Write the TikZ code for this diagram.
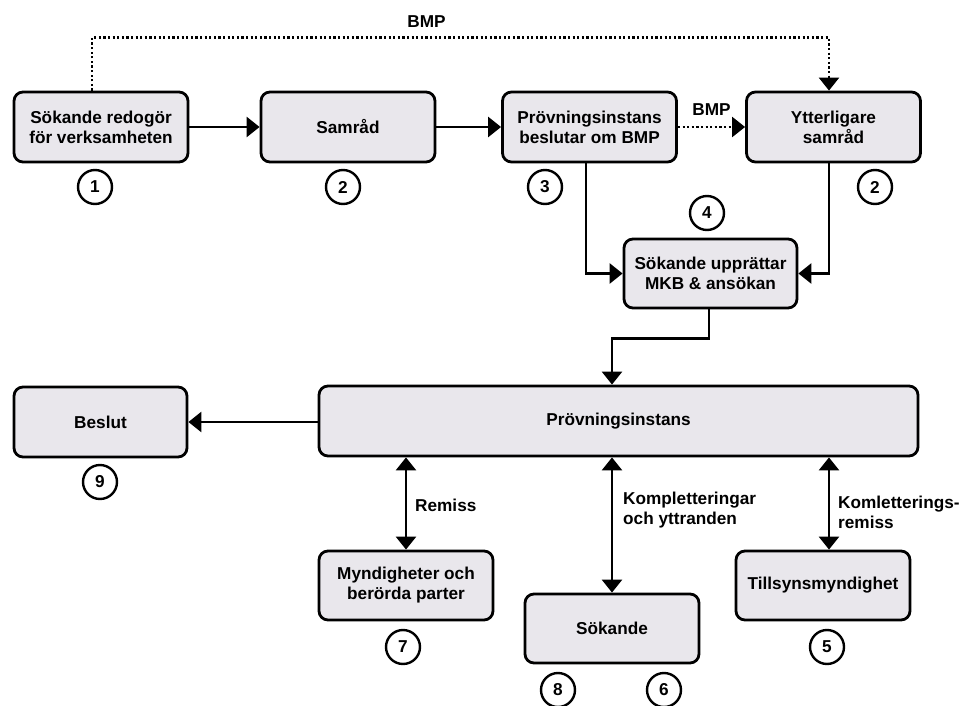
\documentclass[tikz,border=0pt]{standalone}
\usepackage{fontspec}
\setmainfont{Liberation Sans}
\usetikzlibrary{arrows.meta}
\begin{document}
\begin{tikzpicture}[x=1pt,y=-1pt,
  font=\bfseries\fontsize{17.2}{20}\selectfont,
  box/.style={draw, line width=2.8pt, fill=boxfill, rounded corners=9pt,
    minimum width=174pt, minimum height=70pt, align=center, inner sep=2pt},
  num/.style={draw, circle, line width=2.4pt, minimum size=34pt, inner sep=0pt},
  conn/.style={line width=2.6pt, -{Triangle[width=20pt,length=13pt]}},
  both/.style={line width=2.6pt, {Triangle[width=20pt,length=13pt]}-{Triangle[width=20pt,length=13pt]}},
  dots/.style={line width=2.3pt, dash pattern=on 2.2pt off 2.4pt, -{Triangle[width=20pt,length=13pt]}},
  lbl/.style={align=left, inner sep=0pt, anchor=west}]
\definecolor{boxfill}{HTML}{E9E7EC}
\useasboundingbox (0,0) rectangle (962,706);

% top row
\node[box] (b1) at (101,127) {Sökande redogör\\för verksamheten};
\node[box] (sam) at (348,127) {Samråd};
\node[box] (b3) at (589.5,127) {Prövningsinstans\\beslutar om BMP};
\node[box] (yt) at (833.5,127) {Ytterligare\\samråd};
\node[box, minimum width=173pt, minimum height=69pt] (b4) at (710.5,273.5) {Sökande upprättar\\MKB \& ansökan};

% main instance and outcomes
\node[box, minimum width=599pt] (prov) at (618.5,421) {Prövningsinstans};
\node[box, minimum width=173pt] (bes) at (100.5,422) {Beslut};
\node[box, minimum height=69pt] (myn) at (406,585.5) {Myndigheter och\\berörda parter};
\node[box, minimum height=69pt] (sok) at (612,628.5) {Sökande};
\node[box, minimum height=69pt] (till) at (823,585.5) {Tillsynsmyndighet};

% step numbers
\node[num] (n1) at (95,187) {1};
\node[num] (n2) at (343,187) {2};
\node[num] (n3) at (545,187) {3};
\node[num] (n2b) at (875,187) {2};
\node[num] (n4) at (707,213) {4};
\node[num] (n9) at (100,482) {9};
\node[num] (n7) at (403,647) {7};
\node[num] (n8) at (558,690) {8};
\node[num] (n6) at (664,690) {6};
\node[num] (n5) at (827,647) {5};

% connectors
\draw[conn] (b1.east) -- (sam.west);
\draw[conn] (sam.east) -- (b3.west);
\draw[dots] (b3.east) -- node[above=10pt, inner sep=0pt] (bmp1) {BMP} (yt.west);
\draw[dots] ([xshift=-9pt]b1.north) -- ++(0,-53) -| node[pos=0.227, above=9pt, inner sep=0pt] (bmp2) {BMP} ([xshift=-4.5pt]yt.north);
\draw[conn] ([xshift=-3.5pt]b3.south) |- (b4.west);
\draw[conn] ([xshift=-4.5pt]yt.south) |- (b4.east);
\draw[conn] ([xshift=-1.5pt]b4.south) -- ++(0,29) -| (prov.north -| sok.north);
\draw[conn] (prov.west |- bes.east) -- (bes.east);
\draw[both] (prov.south -| myn.north) -- (myn.north);
\draw[both] (prov.south -| sok.north) -- (sok.north);
\draw[both] ([xshift=6pt]prov.south -| till.north) -- ([xshift=6pt]till.north);

% connector labels
\node[lbl] (l1) at (415,505) {Remiss};
\node[lbl] (l2) at (623,510) {Kompletteringar\\och yttranden};
\node[lbl] (l3) at (838,512) {Komletterings-\\remiss};
\end{tikzpicture}
\end{document}
